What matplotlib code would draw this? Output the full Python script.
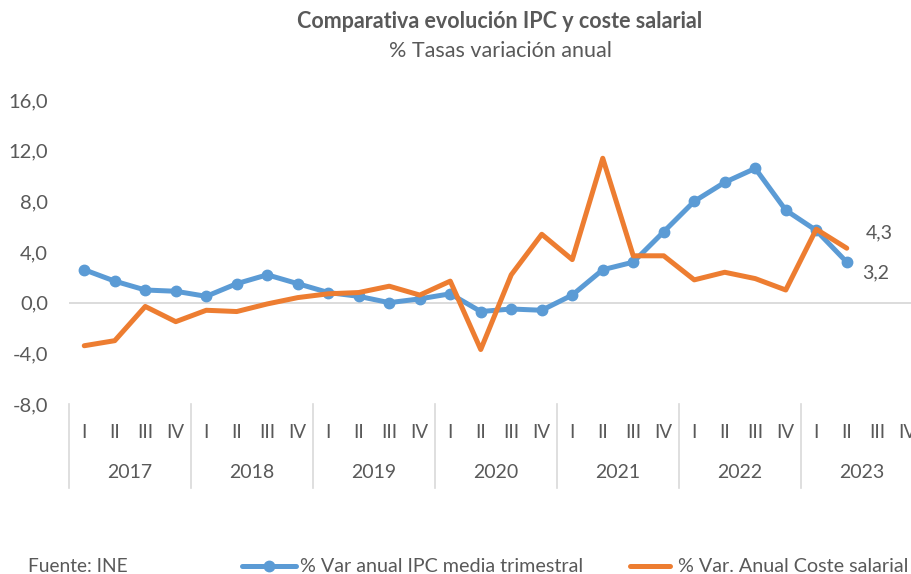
import numpy as np
import matplotlib
matplotlib.use("Agg")
import matplotlib.pyplot as plt
from matplotlib.lines import Line2D

plt.rcParams['font.family'] = ['Lato', 'DejaVu Sans']

# data
years = ['2017', '2018', '2019', '2020', '2021', '2022', '2023']
quarters = ['I', 'II', 'III', 'IV']
ipc = [2.6, 1.7, 1.0, 0.9, 0.5, 1.5, 2.2, 1.5,
       0.8, 0.5, 0.0, 0.3, 0.7, -0.7, -0.5, -0.6,
       0.6, 2.6, 3.2, 5.6, 8.0, 9.5, 10.6, 7.3,
       5.7, 3.2]
coste = [-3.4, -3.0, -0.3, -1.5, -0.6, -0.7, -0.1, 0.4,
         0.7, 0.8, 1.3, 0.6, 1.7, -3.7, 2.2, 5.4,
         3.4, 11.4, 3.7, 3.7, 1.8, 2.4, 1.9, 1.0,
         5.8, 4.3]
yticks = [-8, -4, 0, 4, 8, 12, 16]

txt = '#595959'
blue = '#5b9bd5'
orange = '#ed7d31'

W, H = 912, 574
fig = plt.figure(figsize=(W / 100, H / 100), dpi=100)
left, right, top, bottom = 69, 923, 100, 404
ax = fig.add_axes([left / W, 1 - bottom / H, (right - left) / W, (bottom - top) / H])

n = len(years) * len(quarters)
x = np.arange(len(ipc))
ax.plot(x, ipc, color=blue, lw=3.6, marker='o', ms=7.5, solid_capstyle='round', zorder=3)
ax.plot(x, coste, color=orange, lw=3.6, solid_capstyle='round', zorder=3)

ax.set_xlim(-0.5, n - 0.5)
ax.set_ylim(-8, 16)
ax.set_yticks(yticks)
ax.yaxis.set_major_formatter(plt.FuncFormatter(lambda v, p: ('%.1f' % v).replace('.', ',')))
ax.tick_params(axis='y', length=0, pad=15, labelsize=14.5, labelcolor=txt)
ax.set_xticks([])
for s in ax.spines.values():
    s.set_visible(False)
ax.axhline(0, color='#d9d9d9', lw=1.3, zorder=1)

# category axis (quarters + years)
sep_bottom = -(488 - bottom) / (bottom - top)
q_y = -(433 - bottom) / (bottom - top)
yr_y = -(473 - bottom) / (bottom - top)
for i, yr in enumerate(years):
    x0 = i * 4 - 0.5
    ax.plot([x0, x0], [0, sep_bottom], transform=ax.get_xaxis_transform(),
            color='#d9d9d9', lw=1.2, clip_on=False)
    for j, q in enumerate(quarters):
        ax.text(i * 4 + j, q_y, q, transform=ax.get_xaxis_transform(),
                ha='center', va='center', fontsize=13.5, color=txt, clip_on=False)
    ax.text(i * 4 + 1.5, yr_y, yr, transform=ax.get_xaxis_transform(),
            ha='center', va='center', fontsize=14, color=txt, clip_on=False)

# last value labels
ax.annotate('4,3', (x[-1], coste[-1]), xytext=(14, 11), textcoords='offset points',
            ha='left', va='center', fontsize=14, color=txt)
ax.annotate('3,2', (x[-1], ipc[-1]), xytext=(11, -8), textcoords='offset points',
            ha='left', va='center', fontsize=14, color=txt)

# titles
fig.text(500 / W, 1 - 22 / H, 'Comparativa evolución IPC y coste salarial',
         ha='center', va='center', fontsize=15.5, fontweight='bold', color=txt)
fig.text(500 / W, 1 - 51 / H, '% Tasas variación anual',
         ha='center', va='center', fontsize=15.5, color=txt)

# source + legend
ly = 1 - 566 / H
fig.text(28 / W, ly, 'Fuente: INE', ha='left', va='center', fontsize=13.8, color=txt)
fig.add_artist(Line2D([242 / W, 296 / W], [ly, ly], transform=fig.transFigure,
                      color=blue, lw=3.6, solid_capstyle='round'))
fig.add_artist(Line2D([269 / W], [ly], transform=fig.transFigure, color=blue,
                      marker='o', ms=7.5, lw=0))
fig.text(300 / W, ly, '% Var anual IPC media trimestral', ha='left', va='center',
         fontsize=14.2, color=txt)
fig.add_artist(Line2D([630 / W, 670 / W], [ly, ly], transform=fig.transFigure,
                      color=orange, lw=3.6, solid_capstyle='round'))
fig.text(678 / W, ly, '% Var. Anual Coste salarial', ha='left', va='center',
         fontsize=14.2, color=txt)

fig.savefig('out.png', dpi=100)
